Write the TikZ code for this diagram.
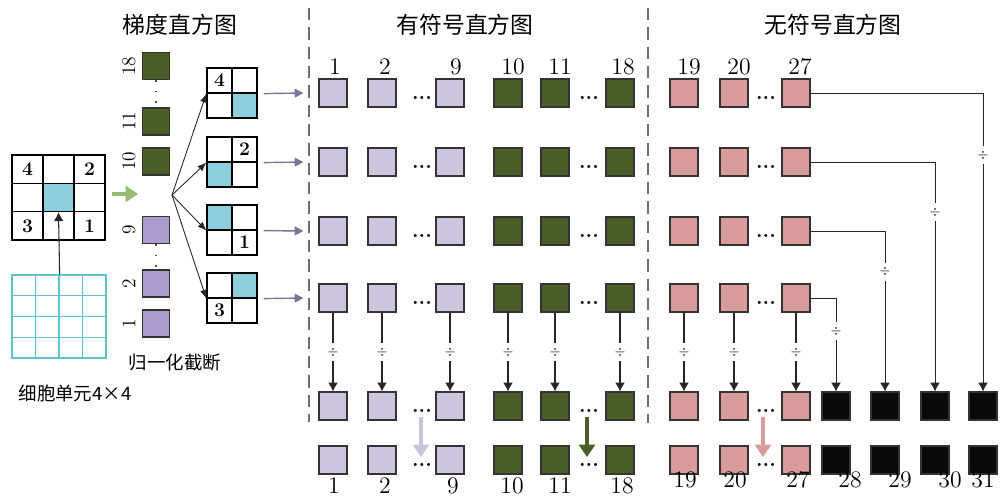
\documentclass[tikz,border=0pt]{standalone}
\usepackage{fontspec}
\newfontfamily\cjk{Noto Sans CJK SC}
\usetikzlibrary{arrows.meta,calc}
\definecolor{lpur}{HTML}{CBC5DF}
\definecolor{mpur}{HTML}{A99BCB}
\definecolor{dgreen}{HTML}{4B5E2A}
\definecolor{pinkc}{HTML}{D89A9A}
\definecolor{blk}{HTML}{0A0A0A}
\definecolor{cellblue}{HTML}{8DCFDD}
\definecolor{cyang}{HTML}{5CC3D3}
\definecolor{arrpur}{HTML}{7E7399}
\definecolor{arrgreen}{HTML}{95BD6E}
\definecolor{arrlpur}{HTML}{C9C4DC}
\definecolor{arrpink}{HTML}{D89A9A}
\definecolor{dashg}{HTML}{6E6E6E}
\begin{document}
\begin{tikzpicture}[x=0.02cm,y=-0.02cm,
  sq/.style={draw=black!80, line width=0.6pt, minimum size=0.56cm, inner sep=0pt},
  sqs/.style={draw=black!80, line width=0.6pt, minimum size=0.54cm, inner sep=0pt},
  num/.style={font=\fontsize{13.5}{15}\selectfont, inner sep=0pt},
  rnum/.style={font=\fontsize{11}{13}\selectfont, inner sep=0pt, rotate=90},
  title/.style={font=\cjk\fontsize{13}{15}\selectfont, inner sep=0pt},
  lab/.style={font=\cjk\fontsize{10.5}{12}\selectfont, inner sep=0pt},
  dotsn/.style={font=\bfseries\fontsize{12}{14}\selectfont, inner sep=0pt},
  cellthree/.style={draw=black, line width=0.7pt, minimum width=0.62cm, minimum height=0.566cm, inner sep=0pt, font=\bfseries\fontsize{11}{13}\selectfont},
  celltwo/.style={draw=black, line width=0.7pt, minimum size=0.5cm, inner sep=0pt, font=\bfseries\fontsize{11}{13}\selectfont},
  cellcy/.style={draw=cyang, line width=0.7pt, minimum width=0.47cm, minimum height=0.415cm, inner sep=0pt},
  varr/.style={draw=black!85, line width=0.6pt, -{Latex[length=5pt,width=5.5pt]}},
  conn/.style={draw=black!85, line width=0.5pt, -{Latex[length=5pt,width=5.5pt]}},
  fanarr/.style={draw=black!85, line width=0.5pt, -{Latex[length=5pt,width=4pt]}},
  parr/.style={draw=arrpur, line width=0.8pt, -{Triangle[length=5pt,width=5pt]}},
  fatarr/.style={line width=2.3pt, -{Triangle[length=7pt,width=9pt]}},
  divbox/.style={fill=white, inner xsep=0.3pt, inner ysep=2.5pt, font=\fontsize{7}{8}\selectfont},
  sep/.style={draw=dashg, line width=0.9pt, dash pattern=on 7pt off 4pt}
]
\useasboundingbox (0,0) rectangle (1002,504);
\fill[white] (0,0) rectangle (1002,504);

% titles
\node[title] (tt1) at (180,25) {梯度直方图};
\node[title] (tt2) at (465,25) {有符号直方图};
\node[title] (tt3) at (833,25) {无符号直方图};

% separators
\coordinate (d1a) at (309,8); \coordinate (d1b) at (309,422);
\coordinate (d2a) at (648,8); \coordinate (d2b) at (648,423);
\draw[sep] (d1a) -- (d1b);
\draw[sep] (d2a) -- (d2b);

% 3x3 grid
\foreach \j/\i/\x/\y/\f/\t in {1/1/27.5/169.2/white/4, 1/2/58.5/169.2/white/, 1/3/89.5/169.2/white/2,
  2/1/27.5/197.5/white/, 2/2/58.5/197.5/cellblue/, 2/3/89.5/197.5/white/,
  3/1/27.5/225.8/white/3, 3/2/58.5/225.8/white/, 3/3/89.5/225.8/white/1}{
  \node[cellthree, fill=\f] (m\j\i) at (\x,\y) {\t};
}

% cyan 4x4 grid
\foreach \j/\y in {1/285.4,2/306.1,3/326.9,4/347.6}{
  \foreach \i/\x in {1/23.75,2/47.25,3/70.75,4/94.25}{
    \node[cellcy] (c\j\i) at (\x,\y) {};
  }
}
\draw[varr] (c12.north east) -- (m22.south);
\node[lab] (lcell) at (75,393) {细胞单元4×4};

% green arrow
\coordinate (ga) at (112,194); \coordinate (gb) at (138,194);
\draw[fatarr, draw=arrgreen, fill=arrgreen, line width=2.6pt] (ga) -- (gb);

% left histogram column
\foreach \n/\y/\col in {18/66/dgreen, 11/121.5/dgreen, 10/161.5/dgreen, 9/230/mpur, 2/283.5/mpur, 1/323.5/mpur}{
  \node[sqs, fill=\col] (h\n) at (156,\y) {};
  \node[rnum] (hl\n) at (129,\y) {\n};
}
\draw[black!70, line width=1pt, dash pattern=on 1pt off 5pt] (h18) -- (h11);
\draw[black!70, line width=1pt, dash pattern=on 1pt off 5pt] (h9) -- (h2);
\node[lab] (lnorm) at (175,363) {归一化截断};

% 2x2 grids
\foreach \g/\Y/\fa/\fb/\fc/\fd/\ta/\tb/\tc/\td in {
  1/68/white/white/white/cellblue/4///,
  2/137/white/white/cellblue/white//2//,
  3/205/cellblue/white/white/white////1,
  4/273/white/cellblue/white/white///3/}{
  \node[celltwo, fill=\fa] (g\g a) at (219.5,\Y+12.5) {\ta};
  \node[celltwo, fill=\fb] (g\g b) at (244.5,\Y+12.5) {\tb};
  \node[celltwo, fill=\fc] (g\g c) at (219.5,\Y+37.5) {\tc};
  \node[celltwo, fill=\fd] (g\g d) at (244.5,\Y+37.5) {\td};
}

% fan arrows
\coordinate (fan) at (172,195);
\foreach \g in {1,2,3,4}{
  \draw[fanarr] (fan) -- (g\g a.south west);
}

% signed and unsigned histograms
\foreach \r/\y in {1/93,2/162,3/231,4/298,5/406,6/460}{
  \foreach \c/\x/\col in {1/333/lpur,2/382/lpur,9/450/lpur,10/508/dgreen,11/555/dgreen,18/620/dgreen}{
    \node[sq, fill=\col] (s\r-\c) at (\x,\y) {};
  }
  \node[dotsn] (da\r) at (422,\y+5) {...};
  \node[dotsn] (db\r) at (589,\y+5) {...};
  \foreach \c/\x in {19/684,20/734,27/796}{
    \node[sq, fill=pinkc] (s\r-\c) at (\x,\y) {};
  }
  \node[dotsn] (dc\r) at (766,\y+5) {...};
}
\foreach \r/\y in {5/406,6/460}{
  \foreach \c/\x in {28/836,29/885,30/935,31/983}{
    \node[sq, fill=blk] (s\r-\c) at (\x,\y) {};
  }
}

% purple arrows into rows
\foreach \g/\r in {1/1,2/2,3/3,4/4}{
  \draw[parr] ($(g\g b.south east)+(6,0)$) -- ($(s\r-1.west)+(-15,0)$);
}

% vertical arrows with division
\foreach \c in {1,2,9,10,11,18,19,20,27}{
  \draw[varr] (s4-\c) -- node[divbox]{$\div$} (s5-\c);
}

% right connectors
\draw[conn] (s1-27.east) -| node[divbox, pos=0.604]{$\div$} (s5-31.north);
\draw[conn] (s2-27.east) -| node[divbox, pos=0.609]{$\div$} (s5-30.north);
\draw[conn] (s3-27.east) -| node[divbox, pos=0.627]{$\div$} (s5-29.north);
\draw[conn] (s4-27.east) -| node[divbox, pos=0.677]{$\div$} (s5-28.north);

% pastel arrows
\coordinate (pa1) at (421,417); \coordinate (pa2) at (421,457);
\coordinate (pb1) at (587,417); \coordinate (pb2) at (587,457);
\coordinate (pc1) at (763,417); \coordinate (pc2) at (763,457);
\draw[fatarr, draw=arrlpur, fill=arrlpur] (pa1) -- (pa2);
\draw[fatarr, draw=dgreen, fill=dgreen] (pb1) -- (pb2);
\draw[fatarr, draw=arrpink, fill=arrpink] (pc1) -- (pc2);

% top numbers
\foreach \t/\x in {1/335,2/385,9/456,10/513,11/560,18/623,19/689,20/739,27/800}{
  \node[num] (top\t) at (\x,67) {\t};
}
% bottom numbers
\foreach \t/\x in {1/334,2/385,9/453,10/512,11/560,18/622}{
  \node[num] (bot\t) at (\x,486) {\t};
}
\foreach \t/\x in {19/685,20/735,27/798,28/850,29/900,30/950,31/983}{
  \node[num] (bot\t) at (\x,480) {\t};
}
\end{tikzpicture}
\end{document}
